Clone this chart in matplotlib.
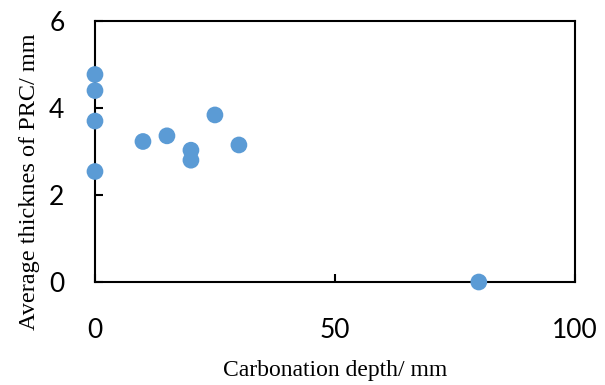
import matplotlib
matplotlib.use("Agg")
import matplotlib.pyplot as plt

# carbonation depth (mm) vs average PRC thickness (mm)
depth = [0, 0, 0, 0, 10, 15, 20, 20, 25, 30, 80]
thickness = [4.77, 4.40, 3.70, 2.54, 3.23, 3.36, 3.03, 2.80, 3.84, 3.15, 0.0]
x_ticks = [0, 50, 100]
y_ticks = [0, 2, 4, 6]

fig = plt.figure(figsize=(6.05, 3.85), dpi=100)
ax = fig.add_axes([0.157, 0.2675, 0.793, 0.678])

ax.scatter(depth, thickness, s=145, color="#5B9BD5", edgecolors="none",
           zorder=3, clip_on=False)

ax.set_xlim(0, 100)
ax.set_ylim(0, 6)
ax.set_xticks(x_ticks)
ax.set_yticks(y_ticks)

for sp in ax.spines.values():
    sp.set_linewidth(1.5)
    sp.set_color("black")

ax.tick_params(axis="both", direction="in", length=6, width=1.5, labelsize=19)
ax.tick_params(axis="x", pad=26)
ax.tick_params(axis="y", pad=22)
for lab in ax.get_xticklabels() + ax.get_yticklabels():
    lab.set_fontfamily("Lato")

ax.set_xlabel("Carbonation depth/ mm", fontfamily="Liberation Serif", fontsize=17, labelpad=12)
ax.set_ylabel("Average thicknes of PRC/ mm", fontfamily="Liberation Serif", fontsize=17.5)
# label sits a bit lower than the axes centre in the original
ax.yaxis.set_label_coords(-0.115, 0.385)

fig.savefig("out.png", dpi=100)
